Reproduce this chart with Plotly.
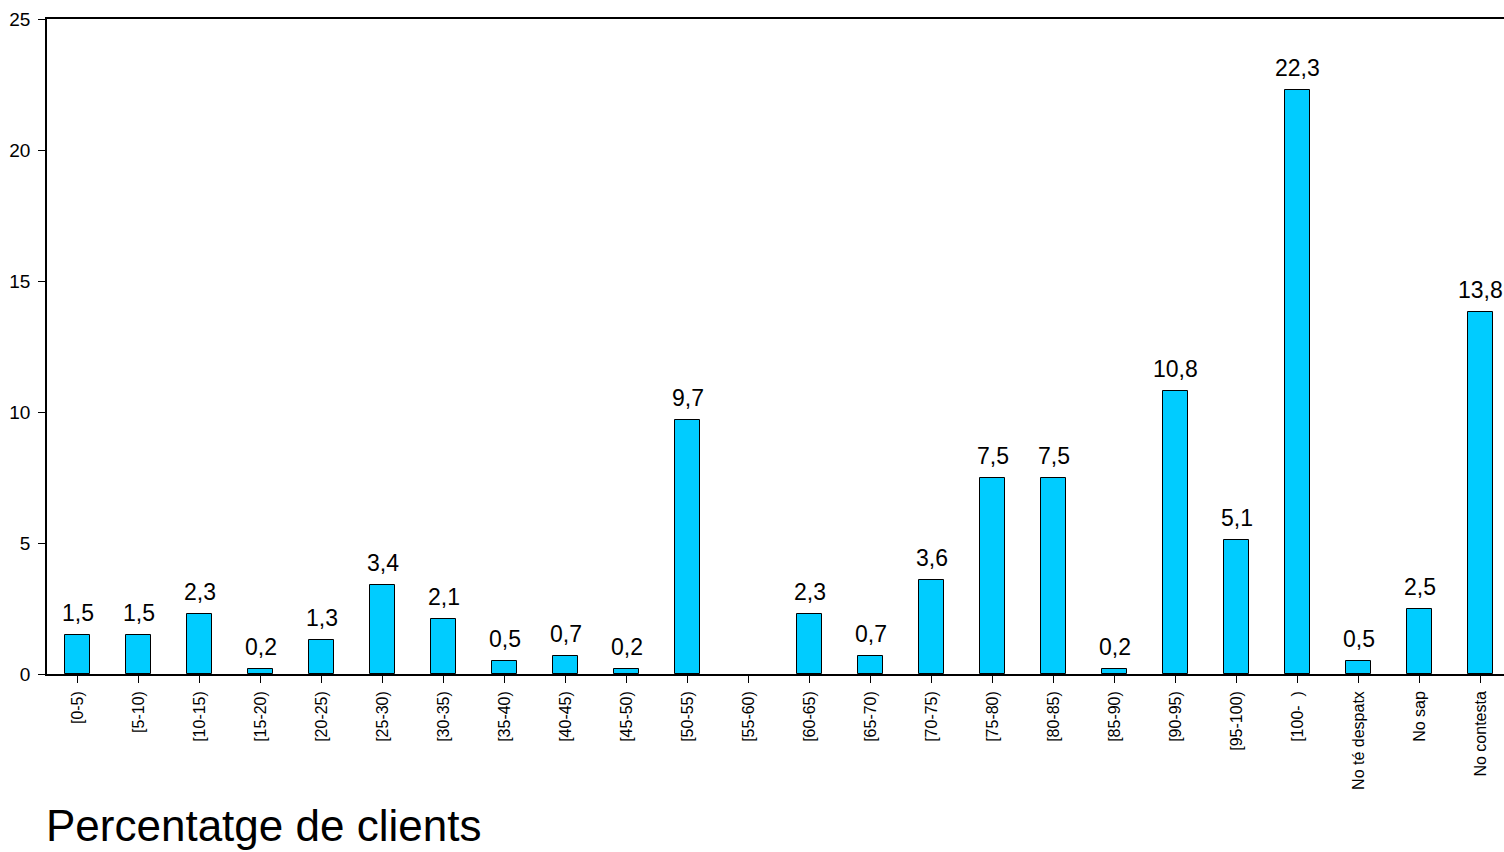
import plotly.graph_objects as go

categories = ["[0-5)", "[5-10)", "[10-15)", "[15-20)", "[20-25)", "[25-30)", "[30-35)",
              "[35-40)", "[40-45)", "[45-50)", "[50-55)", "[55-60)", "[60-65)", "[65-70)",
              "[70-75)", "[75-80)", "[80-85)", "[85-90)", "[90-95)", "[95-100)",
              "[100-\u00a0\u00a0)", "No té despatx", "No sap", "No contesta"]
values = [1.5, 1.5, 2.3, 0.2, 1.3, 3.4, 2.1, 0.5, 0.7, 0.2, 9.7, None, 2.3, 0.7,
          3.6, 7.5, 7.5, 0.2, 10.8, 5.1, 22.3, 0.5, 2.5, 13.8]
y_ticks = [0, 5, 10, 15, 20, 25]
title_text = "Percentatge de clients"

FONT = "Liberation Sans Narrow, Arial Narrow, Liberation Sans, Arial, sans-serif"

fig = go.Figure()
fig.add_trace(go.Bar(
    x=list(range(len(categories))), y=values, width=0.41,
    marker=dict(color="#00CCFF", line=dict(color="#000000", width=1)),
    hoverinfo="skip",
))

for i, v in enumerate(values):
    if v is None:
        continue
    fig.add_annotation(
        x=i, y=v, xref="x", yref="y", text=f"{v:.1f}".replace(".", ","),
        showarrow=False, yanchor="bottom", yshift=7,
        font=dict(family=FONT, size=23, color="#000000"),
    )

fig.add_annotation(
    x=0, y=-0.232, xref="paper", yref="paper", text=title_text,
    showarrow=False, xanchor="left", yanchor="middle", xshift=-3,
    font=dict(family=FONT, size=44, color="#000000"),
)

fig.update_layout(
    width=1504, height=852,
    margin=dict(l=47, r=0, t=19, b=178, autoexpand=False),
    plot_bgcolor="#FFFFFF", paper_bgcolor="#FFFFFF",
    showlegend=False,
    font=dict(family=FONT, color="#000000"),
    bargap=0,
)
fig.update_xaxes(
    range=[-0.5, 23.385], automargin=False,
    tickmode="array", tickvals=list(range(len(categories))), ticktext=categories,
    tickangle=-90, tickfont=dict(family=FONT, size=16, color="#000000"),
    ticks="outside", ticklen=7, tickcolor="#000000", tickwidth=1,
    tickson="boundaries", ticklabelstandoff=2,
    showline=True, linecolor="#000000", linewidth=1.5, mirror=True,
    showgrid=False, zeroline=False,
)
fig.update_yaxes(
    range=[0, 25], tickvals=y_ticks, automargin=False,
    tickfont=dict(family=FONT, size=19, color="#000000"),
    ticks="outside", ticklen=7, tickcolor="#000000", tickwidth=1,
    ticklabelstandoff=4,
    showline=True, linecolor="#000000", linewidth=1.5,
    showgrid=False, zeroline=False,
)

fig.write_html(
    "out.html",
    config={"displayModeBar": False},
    post_script="document.body.style.margin='0';document.body.style.padding='0';document.body.style.overflow='hidden';",
)
